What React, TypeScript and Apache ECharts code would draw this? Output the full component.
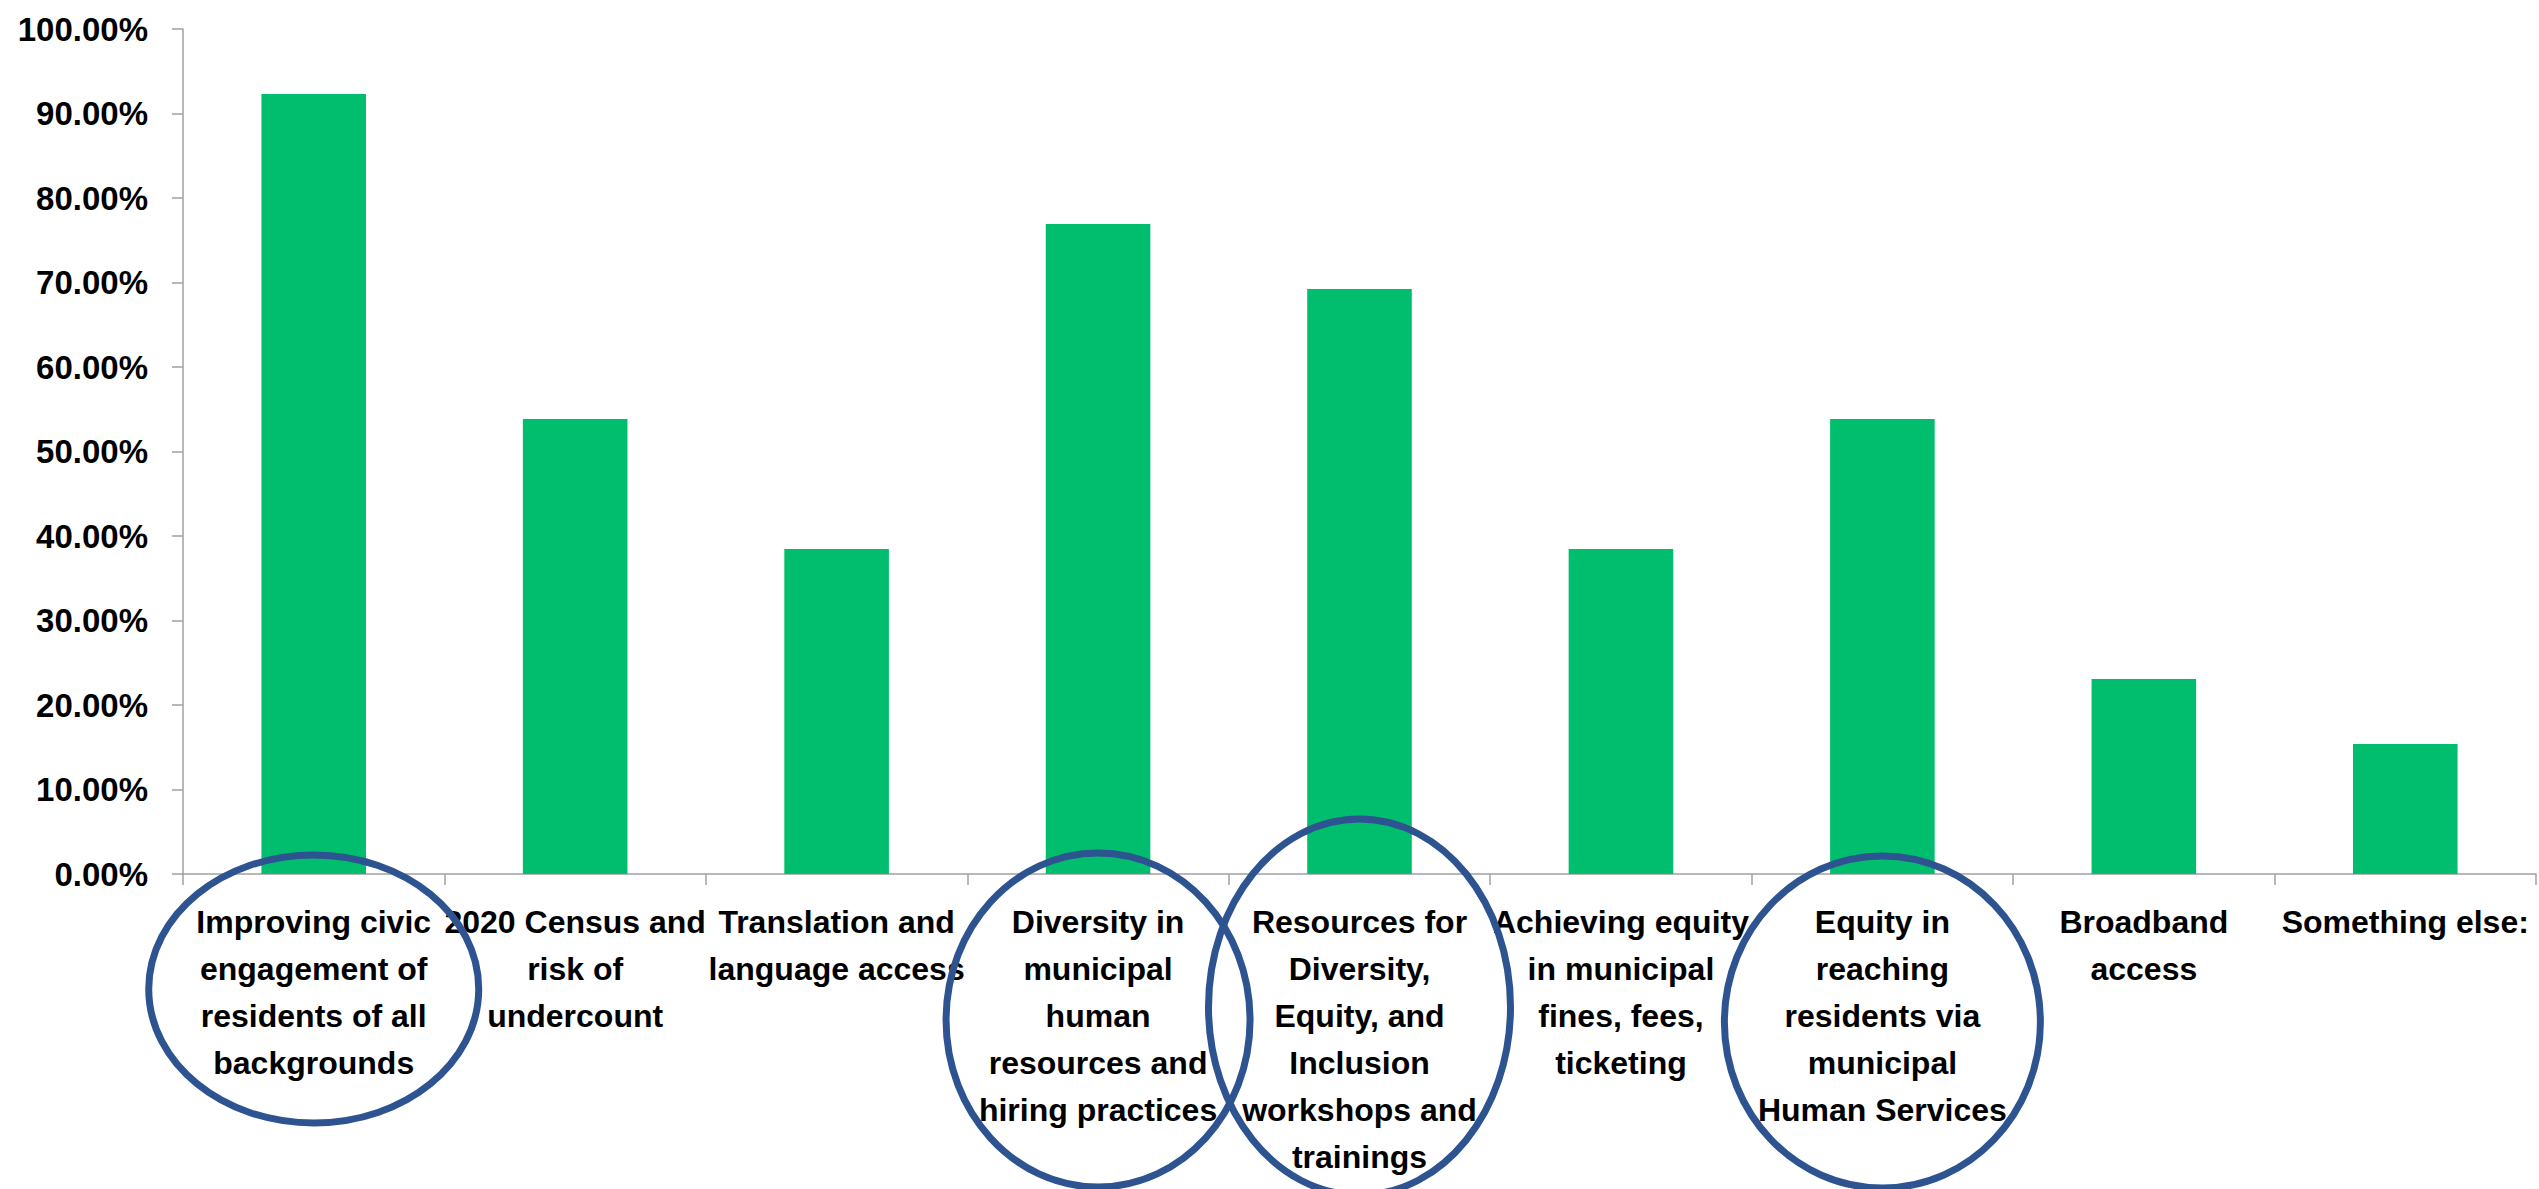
import React, { useEffect, useRef } from "react";
import * as echarts from "echarts";

const categories: string[] = [
  "Improving civic\nengagement of\nresidents of all\nbackgrounds",
  "2020 Census and\nrisk of\nundercount",
  "Translation and\nlanguage access",
  "Diversity in\nmunicipal\nhuman\nresources and\nhiring practices",
  "Resources for\nDiversity,\nEquity, and\nInclusion\nworkshops and\ntrainings",
  "Achieving equity\nin municipal\nfines, fees,\nticketing",
  "Equity in\nreaching\nresidents via\nmunicipal\nHuman Services",
  "Broadband\naccess",
  "Something else:",
];

const values: number[] = [92.31, 53.85, 38.46, 76.92, 69.23, 38.46, 53.85, 23.08, 15.38];

// Highlighted (circled) categories: index, vertical centre, radii
const circledIdx: number[] = [0, 3, 4, 6];
const circleCy: number[] = [989, 1020, 1007, 1022];
const circleRx: number[] = [165, 152, 151, 158];
const circleRy: number[] = [134, 167, 188, 166];

const FONT = "'Liberation Sans', Arial, sans-serif";

export default function App() {
  const ref = useRef<HTMLDivElement>(null);
  useEffect(() => {
    if (!ref.current) return;
    const chart = echarts.init(ref.current, undefined, { renderer: "svg" });
    const option: any = {
      animation: false,
      backgroundColor: "#ffffff",
      grid: { left: 183, top: 29, right: 3, bottom: 315, containLabel: false },
      xAxis: {
        type: "category",
        data: categories,
        axisLine: { show: true, lineStyle: { color: "#A0A0A0", width: 1.5 } },
        axisTick: { show: true, length: 11, lineStyle: { color: "#A0A0A0", width: 1.5 } },
        axisLabel: {
          interval: 0,
          margin: 24,
          color: "#000000",
          fontFamily: FONT,
          fontWeight: "bold",
          fontSize: 32,
          lineHeight: 47,
          align: "center",
        },
      },
      yAxis: {
        type: "value",
        min: 0,
        max: 100,
        interval: 10,
        splitLine: { show: false },
        axisLine: { show: true, lineStyle: { color: "#A0A0A0", width: 1.5 } },
        axisTick: { show: true, length: 11, lineStyle: { color: "#A0A0A0", width: 1.5 } },
        axisLabel: {
          margin: 35,
          color: "#000000",
          fontFamily: FONT,
          fontWeight: "bold",
          fontSize: 33,
          formatter: (v: number) => v.toFixed(2) + "%",
        },
      },
      series: [
        {
          type: "bar",
          data: values,
          barCategoryGap: "60%",
          itemStyle: { color: "#00BE6E" },
        },
      ],
    };
    chart.setOption(option);
    const graphics = circledIdx.map((idx, k) => {
      const cx = chart.convertToPixel({ xAxisIndex: 0 }, idx) as number;
      return {
        type: "ellipse",
        shape: { cx, cy: circleCy[k], rx: circleRx[k], ry: circleRy[k] },
        style: { fill: "none", stroke: "#2E5391", lineWidth: 7 },
        z: 100,
      };
    });
    chart.setOption({ graphic: graphics });
    return () => chart.dispose();
  }, []);
  return (
    <div
      ref={ref}
      style={{ position: "fixed", left: 0, top: 0, width: 2539, height: 1189 }}
    />
  );
}
